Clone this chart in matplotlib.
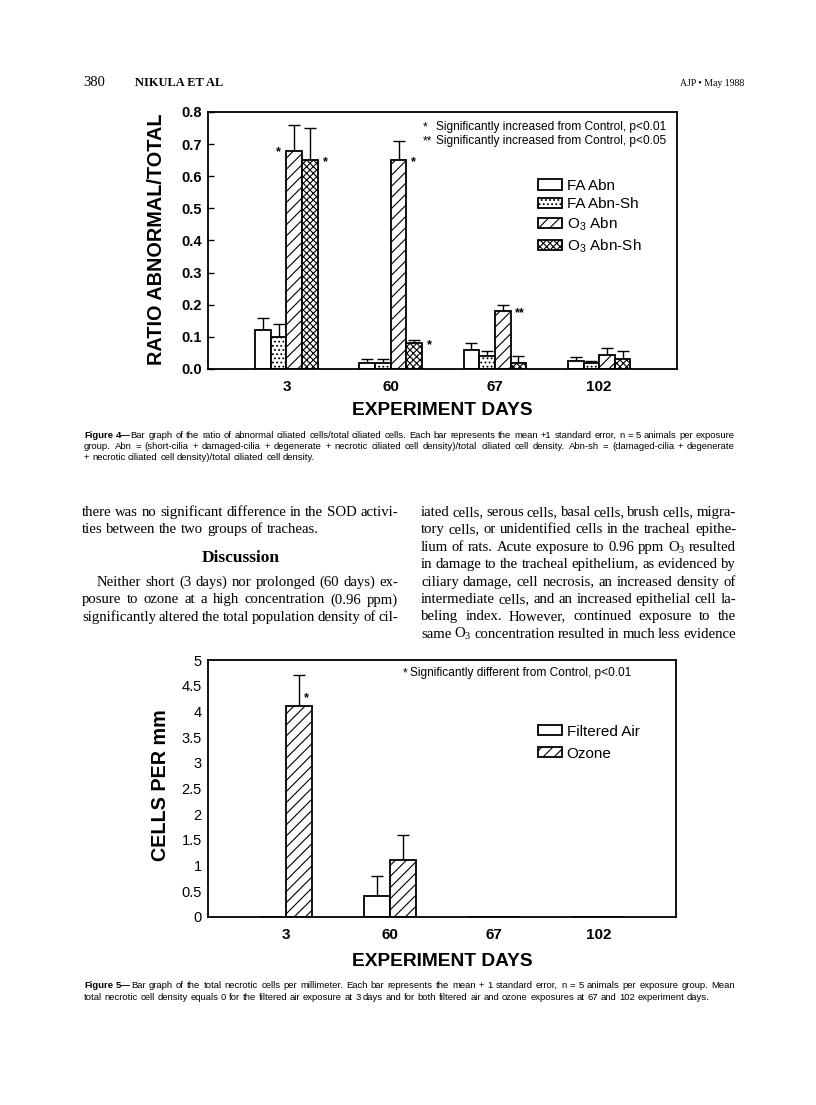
import numpy as np
import matplotlib
matplotlib.use("Agg")
import matplotlib.pyplot as plt

# ---------------- data ----------------
days = ["3", "60", "67", "102"]

# Figure 4: ratio abnormal / total ciliated cells (mean and +1 SE)
fa_abn = [0.12, 0.02, 0.06, 0.025]
fa_abn_err = [0.04, 0.01, 0.02, 0.011]
fa_abnsh = [0.10, 0.02, 0.04, 0.02]
fa_abnsh_err = [0.04, 0.01, 0.015, 0.005]
o3_abn = [0.68, 0.65, 0.18, 0.045]
o3_abn_err = [0.08, 0.06, 0.02, 0.02]
o3_abnsh = [0.65, 0.08, 0.02, 0.03]
o3_abnsh_err = [0.10, 0.01, 0.02, 0.025]
fig4_labels = ["FA Abn", "FA Abn-Sh", r"O$_\mathsf{3}$ Abn", r"O$_\mathsf{3}$ Abn-Sh"]
# (group index, series index, side, marker)
fig4_sig = [(0, 2, "left", "*"), (0, 3, "right", "*"), (1, 2, "right", "*"),
            (1, 3, "right", "*"), (2, 2, "right", "**")]

# Figure 5: necrotic cells per mm
fa_necrotic = [0.0, 0.4, 0.0, 0.0]
fa_necrotic_err = [0.0, 0.4, 0.0, 0.0]
o3_necrotic = [4.1, 1.1, 0.0, 0.0]
o3_necrotic_err = [0.6, 0.5, 0.0, 0.0]
fig5_labels = ["Filtered Air", "Ozone"]
fig5_sig = [(0, 1, "*")]

# ---------------- setup ----------------
plt.rcParams["font.family"] = ["Liberation Sans", "DejaVu Sans"]
plt.rcParams["mathtext.fontset"] = "custom"
plt.rcParams["mathtext.rm"] = "Liberation Serif"
plt.rcParams["mathtext.sf"] = "Liberation Sans"
plt.rcParams["hatch.linewidth"] = 0.8

W, H = 816, 1105
fig = plt.figure(figsize=(W / 100, H / 100), dpi=100)
fig.patch.set_facecolor("white")
renderer = fig.canvas.get_renderer()

SANS = ["Liberation Sans", "DejaVu Sans"]
SERIF = ["Liberation Serif", "DejaVu Serif"]


def fx(x):
    return x / W


def fy(y):
    return 1 - y / H


def place_line(text, x0, x1, y, size, family, justify=True, bold_prefix=None,
               space_em=0.25):
    """Place one line of words between x0 and x1 (pixels), baseline y (pixels from top)."""
    words = []
    toks = text.split(" ")
    if bold_prefix:
        pre = bold_prefix.split(" ")
        runs_list = [[(p, "bold")] for p in pre[:-1]]
        runs_list.append([(pre[-1], "bold"), (toks[0], "normal")])
        runs_list += [[(t, "normal")] for t in toks[1:]]
    else:
        runs_list = [[(t, "normal")] for t in toks]
    for runs in runs_list:
        arts = []
        width = 0
        for txt, wt in runs:
            t = fig.text(0, fy(y), txt, fontsize=size, family=family, weight=wt,
                         va="baseline", ha="left")
            wpx = t.get_window_extent(renderer).width
            arts.append((t, wpx))
            width += wpx
        words.append((arts, width))
    total = sum(w for _, w in words)
    if justify and len(words) > 1:
        gap = (x1 - x0 - total) / (len(words) - 1)
    else:
        gap = size * 100 / 72 * space_em
    x = x0
    for arts, width in words:
        for t, wpx in arts:
            t.set_x(fx(x))
            x += wpx
        x += gap


# ---------------- page header ----------------
fig.text(fx(83), fy(86), "380", fontsize=10.5, family=SERIF, va="baseline")
fig.text(fx(135), fy(86), "NIKULA ET AL", fontsize=8.9, family=SERIF,
         weight="bold", va="baseline")
fig.text(fx(744), fy(86), "AJP \u2022 May 1988", fontsize=7, family=SERIF,
         va="baseline", ha="right")

# ---------------- Figure 4 ----------------
ax1 = fig.add_axes([fx(208), fy(369), (677 - 208) / W, (369 - 112) / H])
x = np.arange(len(days))
w4 = 0.15
series4 = [(fa_abn, fa_abn_err, ""), (fa_abnsh, fa_abnsh_err, "...."),
           (o3_abn, o3_abn_err, "///"), (o3_abnsh, o3_abnsh_err, "xxxxx")]
handles4 = []
pos4 = []
for i, (vals, errs, hatch) in enumerate(series4):
    pos = x + (i - 1.5) * w4
    pos4.append(pos)
    b = ax1.bar(pos, vals, w4, color="white", edgecolor="black", linewidth=1.3,
                hatch=hatch, zorder=2, label=fig4_labels[i])
    handles4.append(b)
    ax1.errorbar(pos, vals, yerr=[np.zeros(len(vals)), errs], fmt="none",
                 ecolor="black", elinewidth=1.0, capsize=4.3, capthick=1.0, zorder=1)

for g, s, side, mk in fig4_sig:
    vals = series4[s][0]
    if side == "left":
        ax1.annotate(mk, xy=(pos4[s][g] - w4 / 2, vals[g]), xytext=(-4, -1.5),
                     textcoords="offset points", ha="right", va="center",
                     fontsize=9, weight="bold")
    else:
        ax1.annotate(mk, xy=(pos4[s][g] + w4 / 2, vals[g]), xytext=(3.5, -1.5),
                     textcoords="offset points", ha="left", va="center",
                     fontsize=9, weight="bold")

ax1.set_xlim(-0.753, 3.747)
ax1.set_ylim(0, 0.8)
yt = np.round(np.arange(0, 0.81, 0.1), 1)
ax1.set_yticks(yt, [f"{v:.1f}" for v in yt], fontweight="bold", fontsize=10.5)
ax1.set_xticks(x, days, fontweight="bold", fontsize=11)
ax1.tick_params(axis="y", direction="in", length=4, width=1, pad=4.5)
ax1.tick_params(axis="x", length=0, pad=8)
for sp in ax1.spines.values():
    sp.set_linewidth(1.3)
ax1.set_ylabel("RATIO ABNORMAL/TOTAL", fontsize=14.3, fontweight="bold", family=SANS)
ax1.yaxis.set_label_coords((157 - 208) / 469, (369 - 239) / 257)
ax1.yaxis.label.set_va("center")
ax1.set_xlabel("EXPERIMENT DAYS", fontsize=13.8, fontweight="bold", family=SANS)
ax1.xaxis.set_label_coords(0.5, -(411 - 369) / 257)
ax1.xaxis.label.set_va("center")

ax1.legend(handles4, fig4_labels, loc="upper left", bbox_to_anchor=(0.703, 0.740),
           frameon=False, borderpad=0, borderaxespad=0, handlelength=1.57,
           handleheight=0.65, handletextpad=0.33, labelspacing=0.28,
           prop={"family": SANS, "size": 11})

ax1.text((423 - 208) / 469, (369 - 127) / 257, "*", transform=ax1.transAxes,
         fontsize=8.6, va="center", ha="left")
ax1.text((436 - 208) / 469, (369 - 127) / 257,
         "Significantly increased from Control, p<0.01", transform=ax1.transAxes,
         fontsize=8.6, va="center", ha="left")
ax1.text((423 - 208) / 469, (369 - 141) / 257, "**", transform=ax1.transAxes,
         fontsize=8.6, va="center", ha="left")
ax1.text((436 - 208) / 469, (369 - 141) / 257,
         "Significantly increased from Control, p<0.05",
         transform=ax1.transAxes, fontsize=8.6, va="center", ha="left")

# caption 4
CAP = 6.8
cap4 = [
    "Bar graph of the ratio of abnormal ciliated cells/total ciliated cells. Each bar represents the mean +1 standard error, n = 5 animals per exposure",
    "group. Abn = (short-cilia + damaged-cilia + degenerate + necrotic ciliated cell density)/total ciliated cell density. Abn-sh = (damaged-cilia + degenerate",
    "+ necrotic ciliated cell density)/total ciliated cell density.",
]
place_line(cap4[0], 84, 735, 438, CAP, SANS, True, bold_prefix="Figure 4\u2014")
place_line(cap4[1], 84, 735, 449, CAP, SANS, True)
place_line(cap4[2], 84, 735, 460, CAP, SANS, False, space_em=0.278)

# ---------------- body text ----------------
BODY = 10.6
lh = 17.4
b0 = 516
place_line("there was no significant difference in the SOD activi-", 82, 398, b0, BODY, SERIF, True)
place_line("ties between the two groups of tracheas.", 82, 398, b0 + lh, BODY, SERIF, False)
fig.text(fx(241), fy(562), "Discussion", fontsize=12.5, family=SERIF, weight="bold",
         va="baseline", ha="center")
place_line("Neither short (3 days) nor prolonged (60 days) ex-", 97, 398, 586, BODY, SERIF, True)
place_line("posure to ozone at a high concentration (0.96 ppm)", 82, 398, 586 + lh, BODY, SERIF, True)
place_line("significantly altered the total population density of cil-", 82, 398, 586 + 2 * lh, BODY, SERIF, True)

right_col = [
    "iated cells, serous cells, basal cells, brush cells, migra-",
    "tory cells, or unidentified cells in the tracheal epithe-",
    r"lium of rats. Acute exposure to 0.96 ppm O$_\mathrm{3}$ resulted",
    "in damage to the tracheal epithelium, as evidenced by",
    "ciliary damage, cell necrosis, an increased density of",
    "intermediate cells, and an increased epithelial cell la-",
    "beling index. However, continued exposure to the",
    r"same O$_\mathrm{3}$ concentration resulted in much less evidence",
]
for i, line in enumerate(right_col):
    place_line(line, 421, 736, b0 + i * lh, BODY, SERIF, True)

# ---------------- Figure 5 ----------------
ax2 = fig.add_axes([fx(208), fy(917), (676 - 208) / W, (917 - 660) / H])
w5 = 0.25
series5 = [(fa_necrotic, fa_necrotic_err, ""), (o3_necrotic, o3_necrotic_err, "///")]
handles5 = []
pos5 = []
for i, (vals, errs, hatch) in enumerate(series5):
    pos = x + (i - 0.5) * w5
    pos5.append(pos)
    b = ax2.bar(pos, vals, w5, color="white", edgecolor="black", linewidth=1.3,
                hatch=hatch, zorder=2, label=fig5_labels[i])
    handles5.append(b)
    errs = np.asarray(errs)
    m = errs > 0
    ax2.errorbar(pos[m], np.asarray(vals)[m], yerr=[np.zeros(m.sum()), errs[m]],
                 fmt="none", ecolor="black", elinewidth=1.0, capsize=4.3,
                 capthick=1.0, zorder=1)

for g, s, mk in fig5_sig:
    vals = series5[s][0]
    ax2.annotate(mk, xy=(pos5[s][g] + w5 / 2, vals[g]), xytext=(-2.5, 6),
                 textcoords="offset points", ha="right", va="center",
                 fontsize=9, weight="bold")

ax2.set_xlim(-0.753, 3.747)
ax2.set_ylim(0, 5)
yt2 = np.arange(0, 5.01, 0.5)
ax2.set_yticks(yt2, [f"{v:g}" for v in yt2], fontsize=10.5)
ax2.set_xticks(x, days, fontweight="bold", fontsize=11)
ax2.tick_params(axis="y", length=0, pad=4.5)
ax2.tick_params(axis="x", length=0, pad=8)
for sp in ax2.spines.values():
    sp.set_linewidth(1.3)
ax2.set_ylabel("CELLS PER mm", fontsize=14.2, fontweight="bold", family=SANS)
ax2.yaxis.set_label_coords((160 - 208) / 468, (917 - 785) / 257)
ax2.yaxis.label.set_va("center")
ax2.set_xlabel("EXPERIMENT DAYS", fontsize=13.8, fontweight="bold", family=SANS)
ax2.xaxis.set_label_coords(0.5, -(961 - 917) / 257)
ax2.xaxis.label.set_va("center")

ax2.legend(handles5, fig5_labels, loc="upper left", bbox_to_anchor=(0.7045, 0.748),
           frameon=False, borderpad=0, borderaxespad=0, handlelength=1.57,
           handleheight=0.65, handletextpad=0.33, labelspacing=0.52,
           prop={"family": SANS, "size": 11})

ax2.text((403 - 208) / 468, (917 - 673) / 257, "*", transform=ax2.transAxes,
         fontsize=8.6, va="center", ha="left")
ax2.text((410 - 208) / 468, (917 - 673) / 257,
         "Significantly different from Control, p<0.01", transform=ax2.transAxes,
         fontsize=8.6, va="center", ha="left")

cap5 = [
    "Bar graph of the total necrotic cells per millimeter. Each bar represents the mean + 1 standard error, n = 5 animals per exposure group. Mean",
    "total necrotic cell density equals 0 for the filtered air exposure at 3 days and for both filtered air and ozone exposures at 67 and 102 experiment days.",
]
place_line(cap5[0], 84, 735, 988, CAP, SANS, True, bold_prefix="Figure 5\u2014")
place_line(cap5[1], 84, 735, 1000, CAP, SANS, False, space_em=0.278)

fig.savefig("out.png", dpi=100, facecolor="white")
